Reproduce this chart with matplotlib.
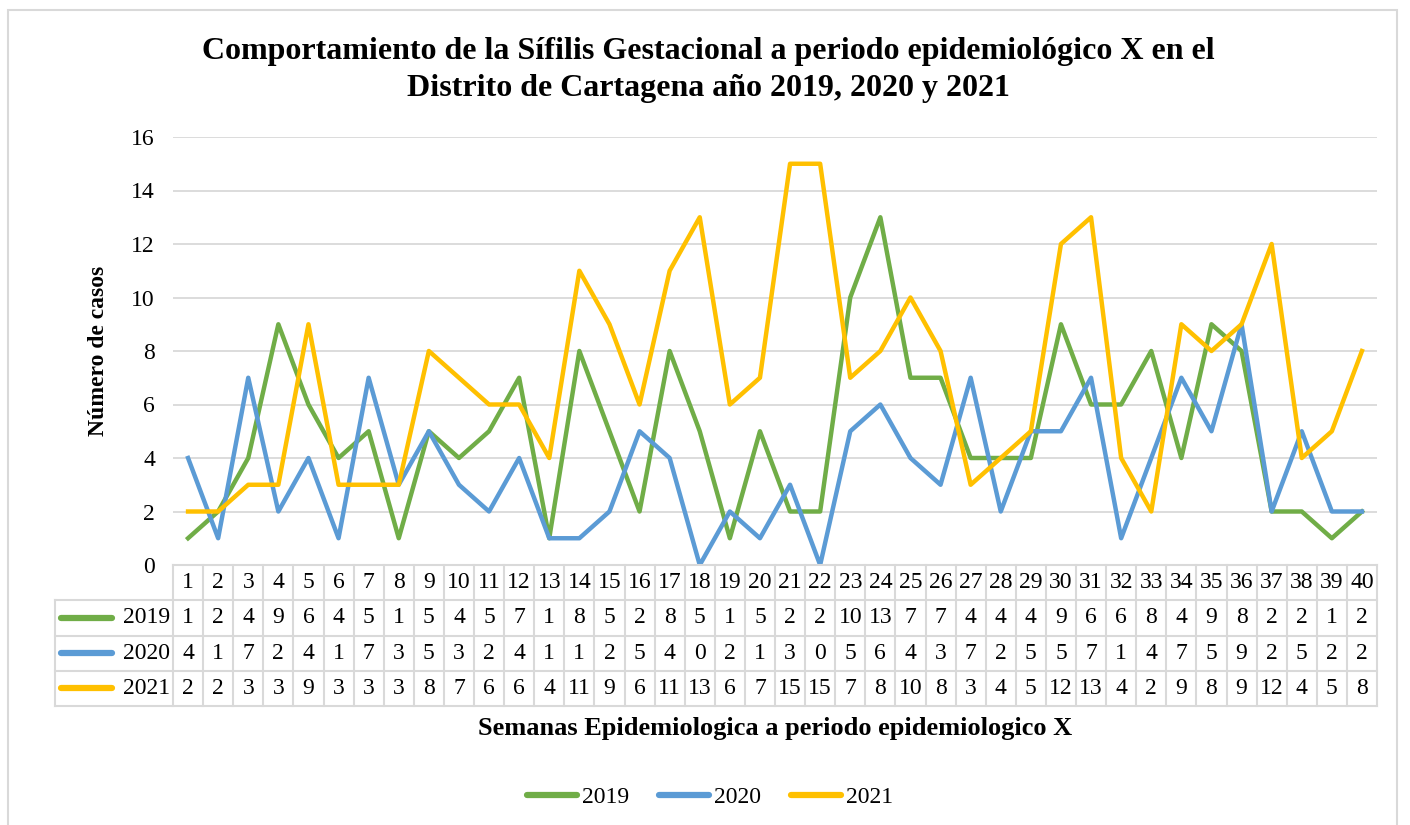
import matplotlib
matplotlib.use("Agg")
import matplotlib.pyplot as plt
from matplotlib.lines import Line2D
from matplotlib.patches import Rectangle
import numpy as np

plt.rcParams['font.family'] = ['Liberation Serif', 'DejaVu Serif']

# --- datos ---
semanas = [str(i) for i in range(1, 41)]
series_nombres = ['2019', '2020', '2021']
casos_2019 = [1, 2, 4, 9, 6, 4, 5, 1, 5, 4, 5, 7, 1, 8, 5, 2, 8, 5, 1, 5,
              2, 2, 10, 13, 7, 7, 4, 4, 4, 9, 6, 6, 8, 4, 9, 8, 2, 2, 1, 2]
casos_2020 = [4, 1, 7, 2, 4, 1, 7, 3, 5, 3, 2, 4, 1, 1, 2, 5, 4, 0, 2, 1,
              3, 0, 5, 6, 4, 3, 7, 2, 5, 5, 7, 1, 4, 7, 5, 9, 2, 5, 2, 2]
casos_2021 = [2, 2, 3, 3, 9, 3, 3, 3, 8, 7, 6, 6, 4, 11, 9, 6, 11, 13, 6, 7,
              15, 15, 7, 8, 10, 8, 3, 4, 5, 12, 13, 4, 2, 9, 8, 9, 12, 4, 5, 8]
colores = ['#70AD47', '#5B9BD5', '#FFC000']
datos = [casos_2019, casos_2020, casos_2021]

W, H = 1410, 825
fig = plt.figure(figsize=(W / 100, H / 100), dpi=100)
gris = '#d9d9d9'
fs = 17

# marco del gráfico
fig.patches.append(Rectangle((8 / W, -0.02), (1397 - 8) / W, (H - 10) / H + 0.02,
                             transform=fig.transFigure, fill=False, ec=gris, lw=1.5))

x0, x1 = 173, 1377
y_top, y_zero, y_tab = 137, 565, 706
ax = fig.add_axes([x0 / W, (H - y_zero) / H, (x1 - x0) / W, (y_zero - y_top) / H])
x = np.arange(len(semanas))
for vals, c, nom in zip(datos, colores, series_nombres):
    ax.plot(x, vals, color=c, lw=3.2, solid_joinstyle='round', label=nom)
ax.set_xlim(-0.5, len(semanas) - 0.5)
ax.set_ylim(0, 16)
ax.set_yticks(range(0, 17, 2))
ax.set_xticks([])
ax.tick_params(axis='y', length=0, pad=13, labelsize=fs)
ax.grid(axis='y', color=gris, lw=1.3)
ax.set_axisbelow(True)
for s in ax.spines.values():
    s.set_visible(False)
ax.set_ylabel('Número de casos', fontsize=17, fontweight='bold', labelpad=16)

# --- tabla de datos ---
tab = fig.add_axes([x0 / W, (H - y_tab) / H, (x1 - x0) / W, (y_tab - y_zero) / H])
tab.set_xlim(-0.5, len(semanas) - 0.5)
tab.set_ylim(4, 0)
tab.axis('off')
lab_left = -0.5 - (x0 - 55) / ((x1 - x0) / len(semanas))
kw = dict(color=gris, lw=1.5, clip_on=False)
# líneas horizontales
tab.plot([-0.5, len(semanas) - 0.5], [0, 0], **kw)
for r in range(1, 5):
    tab.plot([lab_left, len(semanas) - 0.5], [r, r], **kw)
# líneas verticales
for i in range(len(semanas) + 1):
    tab.plot([i - 0.5, i - 0.5], [0, 4], **kw)
tab.plot([lab_left, lab_left], [1, 4], **kw)
for i, s in enumerate(semanas):
    tab.text(i, 0.5, s, ha='center', va='center', fontsize=fs)
for r, (vals, c, nom) in enumerate(zip(datos, colores, series_nombres), start=1):
    for i, v in enumerate(vals):
        tab.text(i, r + 0.5, str(v), ha='center', va='center', fontsize=fs)
    tab.plot([lab_left + 0.2, lab_left + 1.9], [r + 0.5, r + 0.5], color=c, lw=4.5,
             solid_capstyle='round', clip_on=False)
    tab.text(-0.6, r + 0.5, nom, ha='right', va='center', fontsize=fs)

fig.text(775 / W, 1 - 728 / H, 'Semanas Epidemiologica a periodo epidemiologico X',
         ha='center', va='center', fontsize=19, fontweight='bold')

fig.text(708 / W, 1 - 70 / H,
         'Comportamiento de la Sífilis Gestacional a periodo epidemiológico X en el\n'
         'Distrito de Cartagena año 2019, 2020 y 2021',
         ha='center', va='center', fontsize=23, fontweight='bold', linespacing=1.35)

handles = [Line2D([], [], color=c, lw=4.5, solid_capstyle='round') for c in colores]
fig.legend(handles, series_nombres, loc='center', bbox_to_anchor=(710 / W, 1 - 797 / H),
           ncol=3, frameon=False, fontsize=fs, handlelength=2.1, handletextpad=0.2,
           columnspacing=1.3)

fig.savefig('out.png', dpi=100)
